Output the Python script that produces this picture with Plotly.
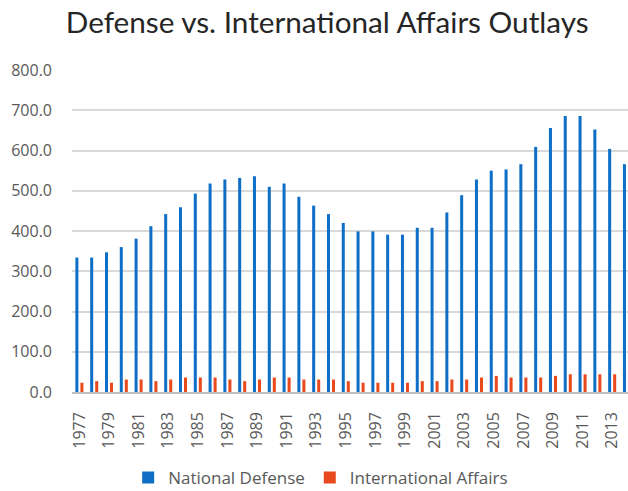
import plotly.graph_objects as go

years = [str(y) for y in range(1977, 2015)]
national_defense = [334, 334, 347, 360, 381, 412, 442, 459, 493, 518, 528, 532, 536, 510, 518, 485,
                    463, 442, 420, 399, 399, 391, 391, 408, 408, 446, 489, 528, 550, 553, 566, 609,
                    656, 686, 686, 652, 604, 566]
international_affairs = [23, 27, 23, 31, 31, 27, 31, 36, 36, 36, 31, 27, 31, 36, 36, 31,
                         31, 31, 27, 23, 23, 23, 23, 27, 27, 31, 31, 36, 40, 36, 36, 36,
                         40, 44, 44, 44, 44, 44]
tick_years = years[::2]
y_ticks = [0, 100, 200, 300, 400, 500, 600, 700, 800]

TITLE_FONT = "Lato"
FONT = "Open Sans"
GREY = "#595959"

fig = go.Figure()
fig.add_trace(go.Bar(x=years, y=national_defense, name="National Defense",
                     marker=dict(color="#0F6FC6", line=dict(width=0))))
fig.add_trace(go.Bar(x=years, y=international_affairs, name="International Affairs",
                     marker=dict(color="#E8491D", line=dict(width=0))))

fig.update_layout(
    width=628, height=491,
    margin=dict(l=72, r=0, t=70, b=99, autoexpand=False),
    paper_bgcolor="white", plot_bgcolor="white",
    barmode="group", bargap=0.32, bargroupgap=0.4,
    title=dict(text="Defense vs. International Affairs Outlays", x=0.521, xanchor="center",
               xref="container", y=0.953, yanchor="middle", yref="container",
               font=dict(family=TITLE_FONT, size=29.7, color="#262626")),
    font=dict(family=FONT, color=GREY),
    legend=dict(orientation="h", x=0.101, xanchor="left", y=-0.267, yanchor="middle",
                font=dict(size=17, color=GREY), itemwidth=30, traceorder="normal"),
    showlegend=True,
)
fig.update_xaxes(type="category", range=[-0.5, 37.07], tickmode="array", tickvals=tick_years,
                 ticktext=tick_years, tickangle=-90, tickfont=dict(size=16, color=GREY),
                 showgrid=False, showline=True, linecolor="#bfbfbf", linewidth=1.5, ticks="",
                 ticklabelstandoff=12, automargin=False)
fig.update_yaxes(range=[0, 800], tickvals=y_ticks, ticktext=[f"{v:.1f}" for v in y_ticks],
                 tickfont=dict(size=16, color=GREY), showgrid=True, gridcolor="#d9d9d9",
                 gridwidth=1.5, zeroline=False, showline=False, ticks="",
                 ticklabelstandoff=19, automargin=False)

fig.write_html(
    "out.html",
    config={"displayModeBar": False},
    post_script=(
        "document.body.style.margin='0';"
        "document.body.style.overflow='hidden';"
        "document.documentElement.style.overflow='hidden';"
    ),
)
